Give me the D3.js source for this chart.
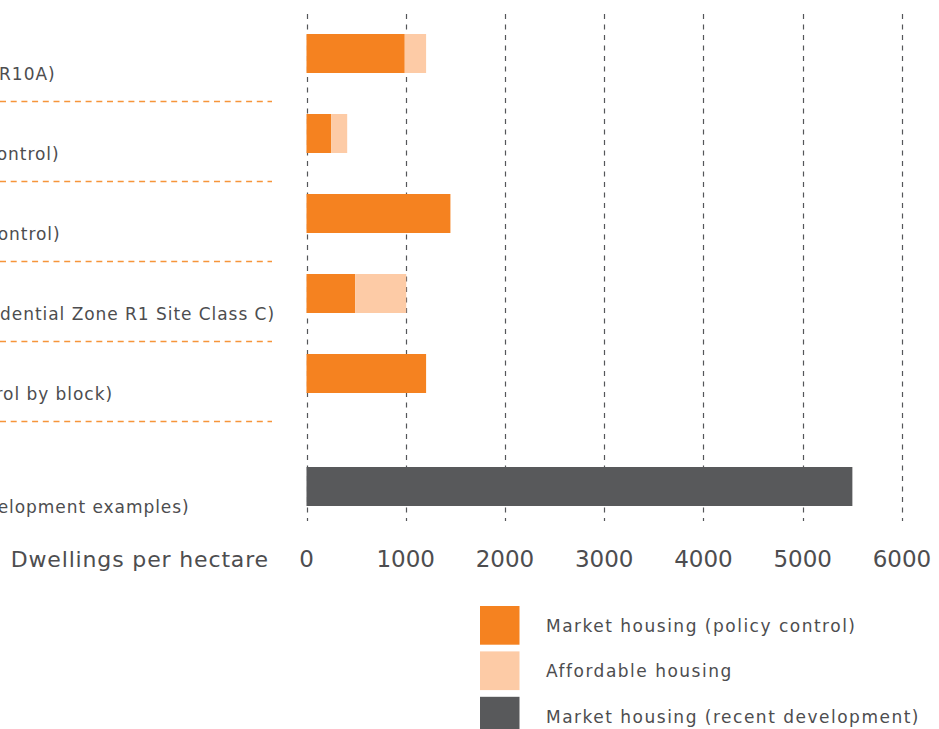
<!DOCTYPE html>
<html>
<head>
<meta charset="utf-8">
<script src="https://cdn.jsdelivr.net/npm/d3@7"></script>
<style>
  html, body { margin: 0; padding: 0; background: #fff; }
  svg { display: block; }
  text { font-family: "DejaVu Sans", sans-serif; fill: #4d4d4f; }
</style>
</head>
<body>
<svg id="chart" width="939" height="729"></svg>
<script>
// ---- data ----
const categories = [
  "New York (Zone R10A)",
  "Zurich (height control)",
  "Seoul (density control)",
  "Hong Kong (Residential Zone R1 Site Class C)",
  "Singapore (control by block)",
  "NYC (recent development examples)"
];
const groups = [0, 0, 0, 0, 0, 1];
const marketPolicy = [990, 250, 1450, 490, 1205, 0];
const affordable   = [215, 160, 0, 515, 0, 0];
const marketRecent = [0, 0, 0, 0, 0, 5500];
const xTicks = [0, 1000, 2000, 3000, 4000, 5000, 6000];
const seriesNames = ["Market housing (policy control)", "Affordable housing", "Market housing (recent development)"];
const seriesColors = ["#F58220", "#FDCBA6", "#58595B"];
const axisTitle = "Dwellings per hectare";

// ---- layout ----
const svg = d3.select("#chart");
const x = d3.scaleLinear().domain([0, 6000]).range([306.5, 902]);
const y = d3.scaleBand().domain(d3.range(categories.length)).range([34, 473]).paddingInner(0.5125).paddingOuter(0);
const groupGap = 33;
const rowTop = i => y(i) + groups[i] * groupGap;
const bw = y.bandwidth();

// gridlines
const gridTop = 14, gridBottom = 521;
svg.append("g").selectAll("line").data(xTicks).join("line")
  .attr("x1", d => Math.round(x(d)) + 0.5).attr("x2", d => Math.round(x(d)) + 0.5)
  .attr("y1", gridTop).attr("y2", gridBottom)
  .attr("stroke", "#555659").attr("stroke-width", 1.2)
  .attr("stroke-dasharray", "5,5.5");

// stacked data
const rows = categories.map((c, i) => ({ i, vals: [marketPolicy[i], affordable[i], marketRecent[i]] }));
const segs = [];
rows.forEach(r => {
  let acc = 0;
  r.vals.forEach((v, k) => {
    if (v > 0) { segs.push({ i: r.i, k, x0: acc, x1: acc + v }); acc += v; }
  });
});
svg.append("g").selectAll("rect").data(segs).join("rect")
  .attr("x", d => x(d.x0)).attr("width", d => x(d.x1) - x(d.x0))
  .attr("y", d => rowTop(d.i)).attr("height", bw)
  .attr("fill", d => seriesColors[d.k]);

// separators between rows of group 0
svg.append("g").selectAll("line").data(d3.range(5)).join("line")
  .attr("x1", 0).attr("x2", 272)
  .attr("y1", i => rowTop(i) + bw + 28.5).attr("y2", i => rowTop(i) + bw + 28.5)
  .attr("stroke", "#F6953A").attr("stroke-width", 1.5)
  .attr("stroke-dasharray", "6,4.7");

// row labels: left aligned at common x
const labels = svg.append("g").selectAll("text").data(categories).join("text")
  .attr("y", (d, i) => rowTop(i) + bw + 6.5)
  .attr("font-size", 17).attr("letter-spacing", 0.95)
  .text(d => d);
const w4 = labels.nodes()[3].getComputedTextLength();
const labelX = 275 - w4;
labels.attr("x", labelX);

// tick labels
svg.append("g").selectAll("text").data(xTicks).join("text")
  .attr("x", d => x(d)).attr("y", 567)
  .attr("text-anchor", "middle").attr("font-size", 23)
  .text(d => d);

// axis title
svg.append("text").attr("x", 269).attr("y", 567)
  .attr("text-anchor", "end").attr("font-size", 22).attr("letter-spacing", 0.85)
  .text(axisTitle);

// legend
const lg = svg.append("g").selectAll("g").data(seriesNames).join("g")
  .attr("transform", (d, i) => `translate(480, ${606 + i * 45.4})`);
lg.append("rect").attr("width", 39.5).attr("height", 38.7).attr("fill", (d, i) => seriesColors[i]);
lg.append("text").attr("x", 66).attr("y", 26)
  .attr("font-size", 17).attr("letter-spacing", 1.5)
  .text(d => d);
</script>
</body>
</html>
